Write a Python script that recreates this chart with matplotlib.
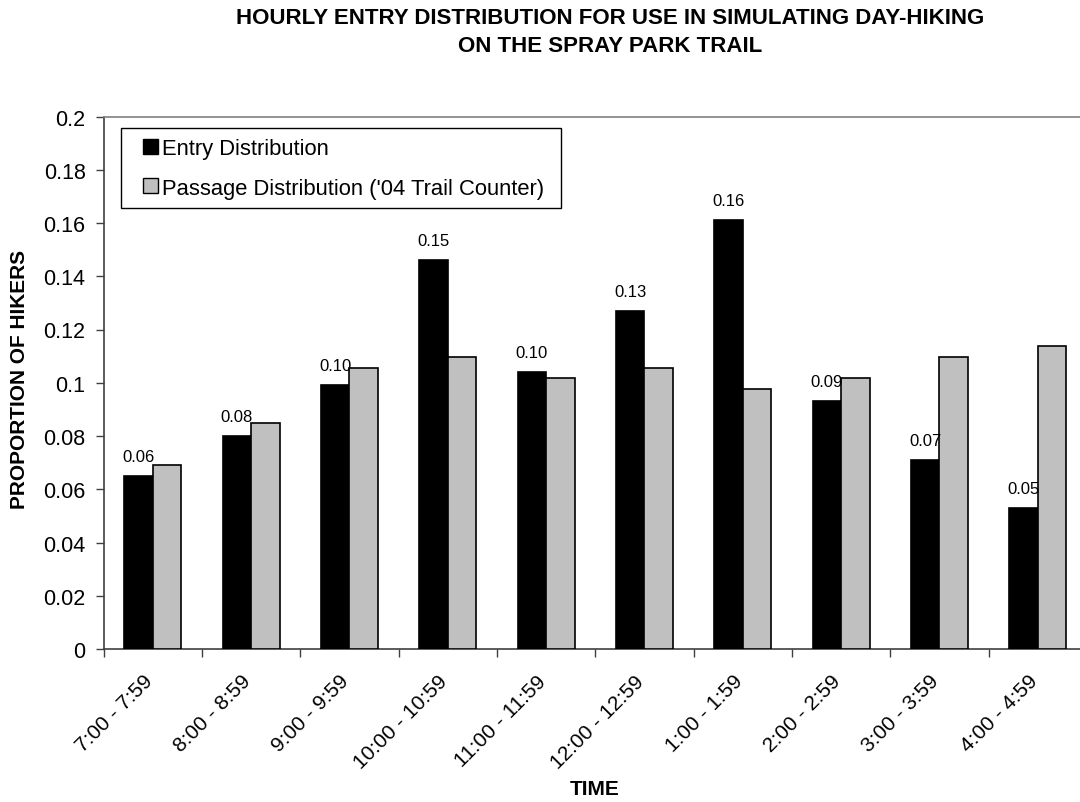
import matplotlib
matplotlib.use("Agg")
import matplotlib.pyplot as plt
import matplotlib.transforms as mtransforms
from matplotlib.legend_handler import HandlerBase
from matplotlib.patches import Rectangle
import numpy as np

categories = ["7:00 - 7:59", "8:00 - 8:59", "9:00 - 9:59", "10:00 - 10:59", "11:00 - 11:59",
              "12:00 - 12:59", "1:00 - 1:59", "2:00 - 2:59", "3:00 - 3:59", "4:00 - 4:59"]
entry = [0.0648, 0.080, 0.099, 0.146, 0.104, 0.127, 0.161, 0.093, 0.071, 0.053]
passage = [0.069, 0.085, 0.1055, 0.1097, 0.1016, 0.1056, 0.0976, 0.1016, 0.1097, 0.1138]
yticks = [0, 0.02, 0.04, 0.06, 0.08, 0.1, 0.12, 0.14, 0.16, 0.18, 0.2]
ytick_labels = ["0", "0.02", "0.04", "0.06", "0.08", "0.1", "0.12", "0.14", "0.16", "0.18", "0.2"]
series_labels = ['Entry Distribution', "Passage Distribution ('04 Trail Counter)"]
series_colors = ['black', '#C0C0C0']

plt.rcParams['font.family'] = ['Liberation Sans', 'DejaVu Sans']

W, H = 1080, 803
fig = plt.figure(figsize=(W / 100, H / 100), dpi=100)
left, right, bottom, top = 103.6, 1087, 650, 117.5
ax = fig.add_axes([left / W, 1 - bottom / H, (right - left) / W, (bottom - top) / H])

x = np.arange(len(categories))
bw = 0.29
ax.bar(x - bw / 2, entry, bw, color=series_colors[0], edgecolor='black', linewidth=1.2, zorder=3)
ax.bar(x + bw / 2, passage, bw, color=series_colors[1], edgecolor='black', linewidth=1.2, zorder=3)

for xi, v in zip(x, entry):
    ax.text(xi - bw / 2, v + 0.0045, f"{v:.2f}", ha='center', va='bottom', fontsize=12, zorder=4)

ax.set_xlim(-0.5, len(categories) - 0.5)
ax.set_ylim(0, 0.2)
ax.set_yticks(yticks)
ax.set_yticklabels(ytick_labels, fontsize=15.5)
ax.set_xticks(x)
ax.set_xticklabels(categories, rotation=45, ha='right', va='top', rotation_mode='anchor', fontsize=15)
ax.set_xticks(np.arange(-0.5, len(categories), 1), minor=True)
ax.tick_params(axis='x', which='major', length=0, pad=16)
ax.tick_params(axis='x', which='minor', length=6, width=1, color='#404040')
ax.tick_params(axis='y', length=6, width=1, color='#404040', pad=7)

offset = mtransforms.ScaledTranslation(-10 / 100, 0, fig.dpi_scale_trans)
for lab in ax.get_xticklabels():
    lab.set_transform(lab.get_transform() + offset)

for s in ['left', 'bottom']:
    ax.spines[s].set_color('#404040')
    ax.spines[s].set_linewidth(1.2)
ax.spines['top'].set_color('#808080')
ax.spines['top'].set_linewidth(1.2)
ax.spines['right'].set_color('#808080')

fig.text(20 / W, 1 - 379 / H, 'PROPORTION OF HIKERS', rotation=90, ha='center', va='center',
         fontsize=15, fontweight='bold')
fig.text(595 / W, 1 - 790 / H, 'TIME', ha='center', va='center', fontsize=15, fontweight='bold')
fig.text(610 / W, 1 - 19 / H, 'HOURLY ENTRY DISTRIBUTION FOR USE IN SIMULATING DAY-HIKING',
         ha='center', va='center', fontsize=16, fontweight='bold')
fig.text(610 / W, 1 - 46 / H, 'ON THE SPRAY PARK TRAIL',
         ha='center', va='center', fontsize=16, fontweight='bold')


class SquareHandler(HandlerBase):
    def create_artists(self, legend, orig_handle, xdescent, ydescent, width, height, fontsize, trans):
        s = 10.8  # points
        p = Rectangle((-xdescent + width - s, -ydescent + (height - s) / 2), s, s,
                      facecolor=orig_handle.get_facecolor(), edgecolor='black', linewidth=1.0,
                      transform=trans)
        return [p]


# legend frame drawn as a fixed box
frame = Rectangle((121 / W, 1 - 209 / H), 440 / W, 80 / H, transform=fig.transFigure,
                  facecolor='white', edgecolor='black', linewidth=1.0, zorder=4.5, clip_on=False)
ax.add_patch(frame)

handles = [Rectangle((0, 0), 1, 1, facecolor=c, edgecolor='black') for c in series_colors]
leg = ax.legend(handles, series_labels, loc='upper left', bbox_to_anchor=(131 / W, 1 - 139 / H),
                bbox_transform=fig.transFigure, frameon=False,
                fontsize=15.8, handlelength=1.24, handleheight=0.7, handletextpad=0.18,
                borderpad=0, labelspacing=0.85, borderaxespad=0,
                handler_map={Rectangle: SquareHandler()})
leg.set_zorder(5)

fig.savefig('out.png', dpi=100)
